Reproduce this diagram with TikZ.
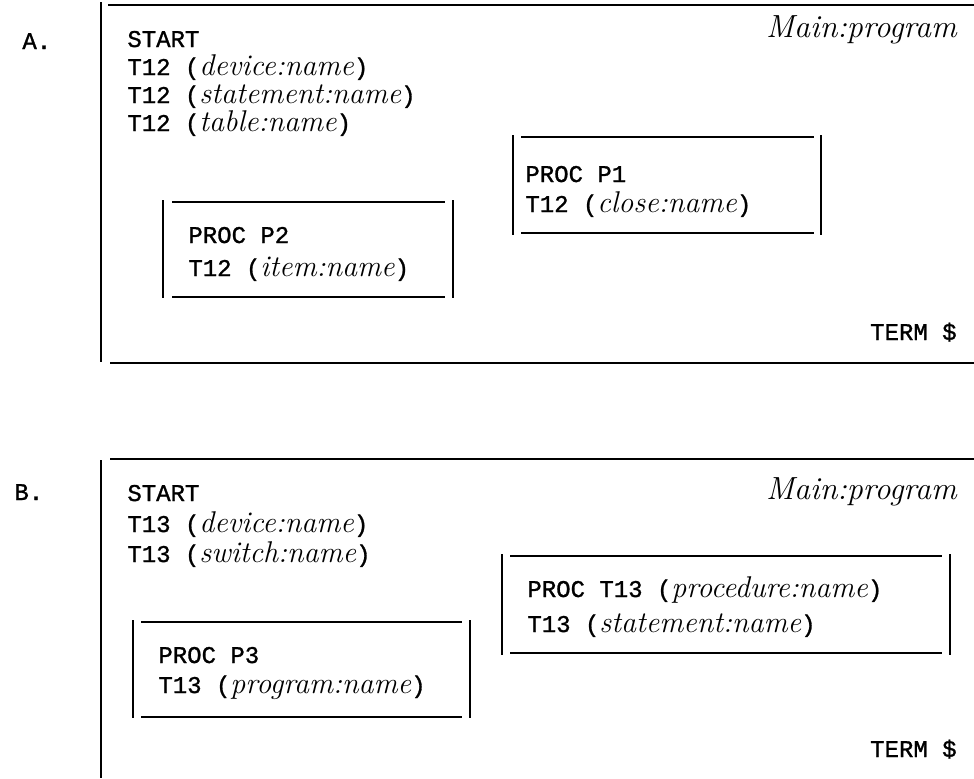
\documentclass[tikz,border=0pt]{standalone}
\usepackage{fontspec}
\setmonofont{Liberation Mono}[FakeBold=1.2]
\newcommand\hw[1]{{\rmfamily\itshape\fontsize{15}{15}\selectfont #1}}
\newcommand\hwM[1]{{\rmfamily\itshape\fontsize{16}{16}\selectfont #1}}
\begin{document}
\begin{tikzpicture}[x=0.5pt,y=-0.5pt,
  txt/.style={inner sep=0pt, font=\ttfamily\fontsize{12}{12}\selectfont},
  tl/.style={txt,anchor=base west},
  tr/.style={txt,anchor=base east},
  frame/.style={line width=1.4pt},
  boxline/.style={line width=1.2pt}]
\useasboundingbox (0,0) rectangle (974,778);

% ---------- A ----------
\node[tl] (Alab) at (22,49) {A.};
\draw[frame] (101,2) -- (101,362);
\draw[frame] (108,5) -- (974,5);
\draw[frame] (110,363) -- (974,363);
\node[tl] (Astart) at (127,47) {START};
\node[tl] (Adev) at (127,75) {T12 (\hw{device:name})};
\node[tl] (Astat) at (127,103) {T12 (\hw{statement:name})};
\node[tl] (Atab) at (127,131) {T12 (\hw{table:name})};
\node[tr] (Amain) at (957,37) {\hwM{Main:program}};
\node[tr] (Aterm) at (957,340) {TERM \$};
% P1 box
\draw[boxline] (513,135) -- (513,235);
\draw[boxline] (821,135) -- (821,235);
\draw[boxline] (521,137) -- (814,137);
\draw[boxline] (521,233) -- (814,233);
\node[tl] (P1a) at (525,182) {PROC P1};
\node[tl] (P1b) at (525,212) {T12 (\hw{close:name})};
% P2 box
\draw[boxline] (163,200) -- (163,298);
\draw[boxline] (453,200) -- (453,298);
\draw[boxline] (172,202) -- (445,202);
\draw[boxline] (172,297) -- (445,297);
\node[tl] (P2a) at (188,243) {PROC P2};
\node[tl] (P2b) at (188,276) {T12 (\hw{item:name})};

% ---------- B ----------
\node[tl] (Blab) at (14,500) {B.};
\draw[frame] (101,460) -- (101,778);
\draw[frame] (110,459) -- (974,459);
\node[tl] (Bstart) at (127,501) {START};
\node[tl] (Bdev) at (127,532) {T13 (\hw{device:name})};
\node[tl] (Bsw) at (127,562) {T13 (\hw{switch:name})};
\node[tr] (Bmain) at (957,499) {\hwM{Main:program}};
\node[tr] (Bterm) at (957,757) {TERM \$};
% PROC T13 box
\draw[boxline] (502,554) -- (502,655);
\draw[boxline] (950,554) -- (950,655);
\draw[boxline] (510,556) -- (942,556);
\draw[boxline] (510,653) -- (942,653);
\node[tl] (PTa) at (527,597) {PROC T13 (\hw{procedure:name})};
\node[tl] (PTb) at (527,632) {T13 (\hw{statement:name})};
% P3 box
\draw[boxline] (133,620) -- (133,718);
\draw[boxline] (470,620) -- (470,718);
\draw[boxline] (141,622) -- (462,622);
\draw[boxline] (141,717) -- (462,717);
\node[tl] (P3a) at (158,663) {PROC P3};
\node[tl] (P3b) at (158,693) {T13 (\hw{program:name})};
\end{tikzpicture}
\end{document}
